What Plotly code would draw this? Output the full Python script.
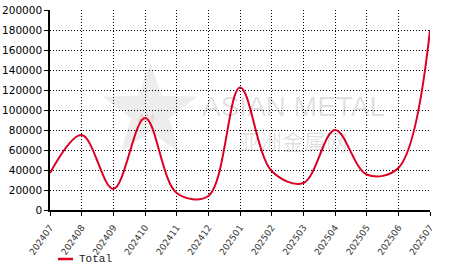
import plotly.graph_objects as go
import numpy as np

months = ["202407", "202408", "202409", "202410", "202411", "202412", "202501",
          "202502", "202503", "202504", "202505", "202506", "202507"]
total = [37000, 75000, 21000, 92000, 17000, 14000, 122500,
         39000, 27000, 80000, 35500, 42000, 180000]
y_ticks = list(range(0, 200001, 20000))

W, H = 466, 272
L, R, T, B = 50, 36, 10, 62
pw, ph = W - L - R, H - T - B

def px2paper(x, y):
    return (x - L) / pw, (H - B - y) / ph

fig = go.Figure()
fig.add_trace(go.Scatter(
    x=months, y=total, mode="lines", name="Total",
    line=dict(color="#dd0022", width=2, shape="spline", smoothing=1),
    showlegend=False,
))

# watermark star
cx, cy, ro, ri = 150, 112, 50, 20
pts = []
for k in range(10):
    a = -np.pi / 2 + k * np.pi / 5
    r = ro if k % 2 == 0 else ri
    px, py = px2paper(cx + r * np.cos(a), cy + r * np.sin(a))
    pts.append(f"{px:.4f},{py:.4f}")
star_path = "M" + " L".join(pts) + " Z"

lx0, ly = px2paper(58, 259)
lx1, _ = px2paper(73, 259)
tx, ty = px2paper(77, 259)

fig.update_layout(
    width=W, height=H,
    margin=dict(l=L, r=R, t=T, b=B),
    paper_bgcolor="white", plot_bgcolor="white",
    showlegend=False,
    shapes=[
        dict(type="path", path=star_path, xref="paper", yref="paper",
             fillcolor="rgba(0,0,0,0.07)", line=dict(width=0), layer="below"),
        dict(type="line", x0=lx0, x1=lx1, y0=ly, y1=ly, xref="paper", yref="paper",
             line=dict(color="#dd0022", width=2.5)),
    ],
    annotations=[
        dict(text="ASIAN METAL", x=px2paper(293, 0)[0], y=px2paper(0, 106)[1],
             xref="paper", yref="paper", showarrow=False,
             font=dict(family="Liberation Sans", size=28, color="rgba(0,0,0,0.12)"),
             xanchor="center", yanchor="middle"),
        dict(text="亚洲金属网", x=px2paper(293, 0)[0], y=px2paper(0, 140)[1],
             xref="paper", yref="paper", showarrow=False,
             font=dict(family="Noto Sans CJK SC", size=22, color="rgba(0,0,0,0.12)"),
             xanchor="center", yanchor="middle"),
        dict(text="AM", x=px2paper(146, 0)[0], y=px2paper(0, 118)[1],
             xref="paper", yref="paper", showarrow=False,
             font=dict(family="Liberation Sans", size=11, color="rgba(255,0,0,0.2)"),
             xanchor="center", yanchor="middle"),
        dict(text="Total", x=tx, y=ty, xref="paper", yref="paper", showarrow=False,
             font=dict(family="Liberation Mono", size=11, color="#222"),
             xanchor="left", yanchor="middle"),
    ],
)
fig.update_xaxes(
    type="category", range=[0, len(months) - 1], automargin=False,
    showline=True, linecolor="black", linewidth=1.5,
    ticks="outside", ticklen=4, tickcolor="black",
    showgrid=True, gridcolor="black", griddash="1px,2px", gridwidth=1,
    tickangle=-55, ticklabelstandoff=3,
    tickfont=dict(family="DejaVu Sans", size=9, color="#333"),
    zeroline=False,
)
fig.update_yaxes(
    range=[0, 200000], tickvals=y_ticks, ticktext=[str(v) for v in y_ticks],
    automargin=False,
    showline=True, linecolor="black", linewidth=1.5,
    ticks="outside", ticklen=4, tickcolor="black",
    showgrid=True, gridcolor="black", griddash="1px,2px", gridwidth=1,
    tickfont=dict(family="DejaVu Sans", size=10.5, color="black"),
    zeroline=False,
)
fig.write_html("out.html")
